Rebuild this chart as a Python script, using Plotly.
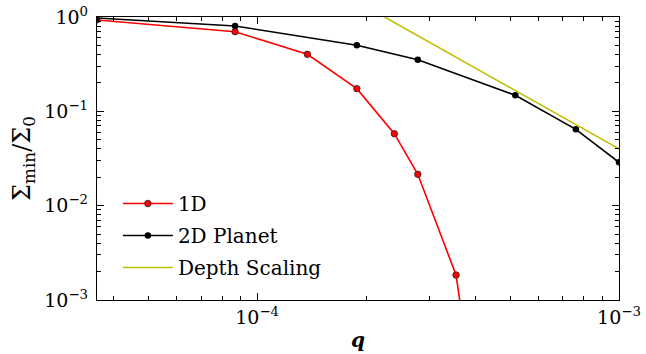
import numpy as np
import plotly.graph_objects as go

# data
q_1d = [3.6e-5, 8.69e-5, 1.377e-4, 1.886e-4, 2.394e-4, 2.78e-4, 3.546e-4, 3.8e-4]
s_1d = [0.93, 0.698, 0.402, 0.174, 0.0579, 0.0215, 0.00184, 0.0003]

q_2d = [3.6e-5, 8.69e-5, 1.886e-4, 2.78e-4, 5.17e-4, 7.6e-4, 1.0e-3]
s_2d = [0.975, 0.803, 0.501, 0.353, 0.148, 0.0644, 0.0288]

q_depth = [2.0e-4, 1.0e-3]
s_depth = [1.29, 0.040]

x_ticks = [1e-4, 1e-3]
x_ticktext = ["10<sup>−4</sup>", "10<sup>−3</sup>"]
y_ticks = [1e-3, 1e-2, 1e-1, 1e0]
y_ticktext = ["10<sup>−3</sup>", "10<sup>−2</sup>", "10<sup>−1</sup>", "10<sup>0</sup>"]

x_minor = [m * 10.0**e for e in (-5, -4) for m in range(2, 10)]
y_minor = [m * 10.0**e for e in (-3, -2, -1) for m in range(2, 10)]

FONT = "DejaVu Serif"

fig = go.Figure()
fig.add_trace(go.Scatter(
    x=q_1d, y=s_1d, mode="lines+markers", name="1D", legendgroup="a",
    line=dict(color="#ff0000", width=1.6),
    marker=dict(color="#ff0000", size=6.5, line=dict(color="#222222", width=0.8)),
))
fig.add_trace(go.Scatter(
    x=q_2d, y=s_2d, mode="lines+markers", name="2D Planet", legendgroup="b",
    line=dict(color="#000000", width=1.6),
    marker=dict(color="#000000", size=6.5),
))
fig.add_trace(go.Scatter(
    x=q_depth, y=s_depth, mode="lines", name="Depth Scaling", legendgroup="c",
    line=dict(color="#bfbf00", width=1.6),
))

axis_common = dict(
    type="log", showgrid=False, zeroline=False,
    showline=True, linecolor="black", linewidth=1.3, mirror="allticks",
    ticks="inside", ticklen=7, tickwidth=1.2, tickcolor="black",
    tickfont=dict(family=FONT, size=19, color="#000000"),
)

fig.update_xaxes(
    **axis_common,
    range=[np.log10(3.61e-5), -3],
    tickvals=x_ticks, ticktext=x_ticktext,
    minor=dict(ticks="inside", ticklen=4, tickwidth=1, tickcolor="black", tickvals=x_minor),
    title=dict(text="<b><i>q</i></b>", font=dict(family=FONT, size=20, color="#000000"), standoff=6),
)
fig.update_yaxes(
    **axis_common,
    range=[-3, 0],
    tickvals=y_ticks, ticktext=y_ticktext,
    minor=dict(ticks="inside", ticklen=4, tickwidth=1, tickcolor="black", tickvals=y_minor),
    ticklabelstandoff=4,
    title=dict(text="Σ<sub>min</sub>/Σ<sub>0</sub>", font=dict(family=FONT, size=24, color="#000000"), standoff=6),
)

fig.update_layout(
    width=646, height=354,
    margin=dict(l=97, r=27, t=17, b=54, autoexpand=False),
    paper_bgcolor="white", plot_bgcolor="white",
    showlegend=True,
    legend=dict(
        x=0.040, y=0.41, xanchor="left", yanchor="top",
        bgcolor="rgba(255,255,255,0)", borderwidth=0,
        font=dict(family=FONT, size=20, color="#000000"),
        itemwidth=50, tracegroupgap=3,
    ),
)

fig.write_html("out.html")
